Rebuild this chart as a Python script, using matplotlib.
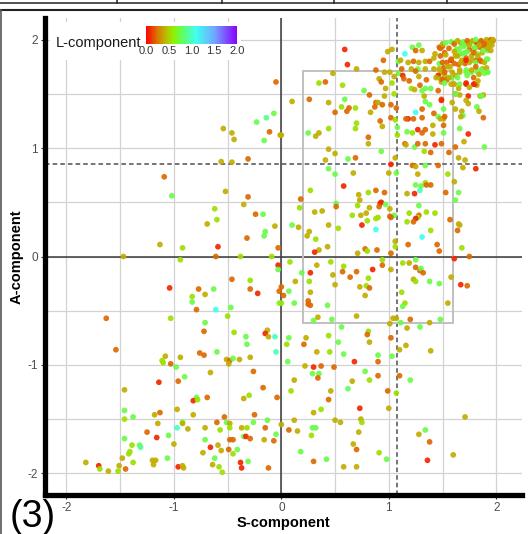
import numpy as np
import matplotlib
matplotlib.use("Agg")
import matplotlib.pyplot as plt
from matplotlib.colors import LinearSegmentedColormap, Normalize
from matplotlib.patches import Rectangle
from matplotlib.lines import Line2D

plt.rcParams['font.family'] = ['Liberation Sans', 'DejaVu Sans']
plt.rcParams['axes.unicode_minus'] = False

# (S, A, L), by region
pts_upper_left = [
    (-0.05, 1.61, 0.22), (-0.07, 1.32, 0.75), (-0.14, 1.28, 0.9), (-0.23, 1.24, 0.75),
    (-0.54, 1.18, 0.4), (-0.46, 1.14, 0.4), (-0.44, 1.08, 0.4), (-0.11, 1.15, 0.22),
    (-0.01, 1.12, 0.4), (-0.16, 1.07, 0.75), (-0.31, 0.90, 0.22), (-0.56, 0.875, 0.4),
    (-0.46, 0.87, 0.4), (-1.09, 0.735, 0.22),
]

pts_upper_right = [
    (0.59, 1.91, 0.08), (0.615, 1.77, 0.08), (0.70, 1.73, 0.4), (0.99, 1.89, 0.4),
    (1.03, 1.91, 0.4), (1.15, 1.87, 1.1), (1.09, 1.80, 0.75), (1.22, 1.93, 0.75),
    (1.28, 1.95, 0.75), (1.25, 1.90, 0.22), (1.31, 1.90, 0.4), (0.95, 1.81, 0.22),
    (0.88, 1.72, 0.22), (0.96, 1.70, 0.4), (1.01, 1.70, 0.4), (1.09, 1.69, 0.75),
    (1.13, 1.67, 0.08), (1.14, 1.64, 0.22), (1.11, 1.81, 0.4), (1.12, 1.73, 0.22),
    (1.18, 1.79, 0.4), (1.23, 1.80, 0.22), (1.28, 1.79, 0.4), (1.34, 1.80, 0.4),
    (1.38, 1.80, 0.22), (1.27, 1.73, 0.75), (1.34, 1.73, 0.4), (1.43, 1.87, 0.4),
    (1.50, 1.94, 0.22), (1.48, 1.92, 0.22), (1.42, 1.83, 0.4), (1.48, 1.85, 0.22),
    (1.52, 1.88, 0.22), (1.47, 1.78, 0.75), (1.51, 1.74, 0.22), (1.54, 1.79, 0.22),
    (1.58, 1.81, 0.08), (1.57, 1.75, 0.4), (1.42, 1.73, 0.4), (1.49, 1.70, 0.4),
    (1.46, 1.67, 0.08), (1.52, 1.67, 0.4), (1.58, 1.65, 0.75), (1.48, 1.64, 0.4),
    (1.54, 1.63, 0.22), (1.49, 1.61, 0.4), (1.58, 1.59, 0.4), (1.60, 1.97, 0.75),
    (1.63, 1.91, 0.75), (1.67, 1.97, 0.4), (1.70, 1.95, 0.75), (1.74, 1.97, 0.4),
    (1.77, 1.98, 0.75), (1.82, 1.97, 0.08), (1.86, 1.98, 0.4), (1.91, 1.98, 0.22),
    (1.95, 1.99, 0.4), (1.97, 1.99, 0.22), (1.62, 1.85, 0.4), (1.66, 1.87, 0.75),
    (1.71, 1.88, 0.75), (1.75, 1.91, 0.22), (1.80, 1.92, 0.4), (1.85, 1.93, 0.22),
    (1.89, 1.94, 0.22), (1.94, 1.95, 0.4), (1.68, 1.81, 0.4), (1.72, 1.83, 0.22),
    (1.77, 1.85, 0.4), (1.82, 1.87, 0.75), (1.87, 1.88, 0.4), (1.92, 1.90, 0.75),
    (1.65, 1.77, 0.22), (1.71, 1.78, 0.22), (1.75, 1.79, 0.4), (1.81, 1.81, 0.22),
    (1.86, 1.80, 0.22), (1.91, 1.82, 0.75), (1.72, 1.72, 0.75), (1.77, 1.70, 0.75),
    (1.82, 1.71, 0.75), (1.87, 1.73, 0.4), (1.92, 1.70, 0.75), (1.66, 1.70, 0.4),
    (1.62, 1.67, 0.4), (1.72, 1.59, 0.08), (1.79, 1.59, 0.08), (1.82, 1.58, 0.4),
    (1.66, 1.59, 0.75), (1.65, 1.55, 0.4), (1.60, 1.59, 0.4), (1.62, 1.50, 0.22),
    (1.66, 1.49, 0.4), (1.74, 1.48, 0.08), (1.85, 1.48, 0.4), (1.88, 1.49, 0.4),
    (1.74, 1.41, 0.4), (1.62, 1.36, 0.4), (1.68, 1.34, 0.4), (1.69, 1.30, 0.75),
    (1.67, 1.29, 0.4), (1.82, 1.38, 0.75), (1.84, 1.34, 0.4), (1.88, 1.28, 0.22),
    (1.66, 1.18, 0.75), (1.74, 1.13, 0.08), (1.70, 1.06, 0.4), (1.62, 1.01, 0.22),
    (1.89, 1.01, 0.75), (1.65, 0.91, 0.4), (1.71, 0.89, 0.4), (1.69, 0.82, 0.4),
    (1.81, 0.81, 0.08),
    (0.10, 1.43, 0.4), (0.26, 1.45, 0.22), (0.35, 1.60, 0.55), (0.41, 1.61, 0.22),
    (0.48, 1.69, 0.4), (0.57, 1.58, 0.55), (0.59, 1.45, 0.75), (0.56, 1.38, 0.55),
    (0.63, 1.37, 0.22), (0.61, 1.34, 0.22), (0.69, 1.37, 0.55), (0.50, 1.33, 0.22),
    (0.44, 1.42, 0.4), (0.77, 1.53, 0.75), (0.82, 1.49, 0.22), (0.91, 1.64, 0.4),
    (0.93, 1.61, 0.22), (0.97, 1.55, 0.4), (0.96, 1.48, 0.4), (0.88, 1.42, 0.22),
    (0.87, 1.38, 0.22), (0.90, 1.42, 0.4), (0.94, 1.40, 0.22), (1.02, 1.40, 0.22),
    (1.07, 1.37, 0.22), (1.05, 1.50, 0.55), (1.03, 1.60, 0.55), (1.05, 1.66, 0.4),
    (0.83, 1.33, 0.4), (0.92, 1.25, 0.22), (0.94, 1.20, 0.4), (1.02, 1.28, 0.22),
    (1.06, 1.26, 0.55), (1.08, 1.19, 0.75), (1.08, 1.12, 0.55), (0.81, 1.10, 0.22),
    (0.81, 1.04, 0.4), (0.70, 1.23, 0.55), (0.69, 1.18, 0.55), (0.44, 1.18, 0.55),
    (0.35, 1.14, 0.4), (0.32, 1.11, 0.4), (0.25, 1.14, 0.75), (0.44, 0.99, 0.4),
    (0.41, 0.89, 0.4), (0.50, 0.95, 0.4), (0.62, 0.90, 0.75), (0.69, 0.91, 0.22),
    (0.44, 0.81, 0.75), (0.50, 0.76, 0.75), (0.67, 0.77, 0.4), (0.93, 0.97, 0.75),
    (1.06, 0.91, 0.4), (1.02, 0.85, 0.08), (1.00, 0.77, 0.4), (1.07, 0.77, 0.75),
    (1.15, 1.04, 0.22), (1.18, 1.27, 0.08), (1.16, 1.27, 0.22), (1.23, 1.27, 0.22),
    (1.27, 1.17, 0.08), (1.17, 1.15, 0.75), (1.22, 1.14, 0.55), (1.31, 1.14, 0.22),
    (1.34, 1.17, 0.22), (1.41, 1.13, 0.4), (1.41, 1.21, 0.4), (1.42, 1.32, 0.22),
    (1.46, 1.29, 0.75), (1.48, 1.27, 0.4), (1.51, 1.27, 0.4), (1.52, 1.29, 0.22),
    (1.51, 1.21, 0.22), (1.51, 1.14, 0.75), (1.31, 1.28, 0.22), (1.31, 1.36, 0.22),
    (1.25, 1.33, 1.1), (1.38, 1.40, 0.75), (1.34, 1.43, 0.75), (1.33, 1.48, 0.4),
    (1.31, 1.53, 0.75), (1.39, 1.55, 0.75), (1.46, 1.53, 0.22), (1.49, 1.45, 0.22),
    (1.51, 1.36, 0.75), (1.19, 1.62, 0.22), (1.21, 1.55, 0.55), (1.24, 1.54, 0.4),
    (1.29, 1.58, 0.22), (1.34, 1.55, 0.75), (1.28, 1.66, 0.4), (1.35, 1.63, 0.22),
    (1.21, 1.73, 0.4), (1.25, 1.71, 0.22), (1.16, 1.03, 0.4), (1.24, 1.01, 0.75),
    (1.27, 1.04, 0.22), (1.34, 1.04, 0.22), (1.43, 1.03, 0.08), (1.49, 1.04, 0.22),
    (1.33, 0.97, 0.55), (1.39, 0.96, 0.22), (1.56, 0.96, 0.22), (1.22, 0.84, 0.22),
    (1.25, 0.83, 0.4), (1.27, 0.76, 0.4), (1.34, 0.84, 0.75), (1.46, 0.84, 0.22),
    (1.55, 0.76, 0.55), (0.0, 1.12, 0.4),
]

pts_corner = [
    (1.47, 1.93, 0.22), (1.50, 1.96, 0.4), (1.53, 1.97, 0.75), (1.58, 1.98, 0.75),
    (1.61, 1.96, 0.22), (1.64, 1.99, 0.4), (1.69, 1.98, 0.75), (1.73, 1.99, 0.22),
    (1.78, 1.99, 0.4), (1.81, 2.00, 0.75), (1.86, 1.99, 0.22), (1.91, 2.00, 0.4),
    (1.95, 2.00, 0.22), (1.97, 2.00, 0.4), (1.56, 1.92, 0.22), (1.61, 1.89, 0.4),
    (1.66, 1.92, 0.75), (1.70, 1.94, 0.75), (1.75, 1.95, 0.4), (1.80, 1.93, 0.75),
    (1.84, 1.95, 0.4), (1.89, 1.96, 0.22), (1.94, 1.97, 0.4), (1.96, 1.95, 0.4),
    (1.53, 1.86, 0.4), (1.58, 1.82, 0.22), (1.64, 1.85, 0.4), (1.69, 1.87, 0.75),
    (1.73, 1.89, 0.75), (1.79, 1.88, 0.22), (1.83, 1.85, 0.4), (1.88, 1.90, 0.75),
    (1.92, 1.92, 0.4), (1.95, 1.90, 0.4), (1.50, 1.79, 0.22), (1.55, 1.75, 0.4),
    (1.61, 1.78, 0.22), (1.67, 1.79, 0.4), (1.72, 1.81, 0.08), (1.77, 1.81, 0.4),
    (1.81, 1.79, 0.75), (1.85, 1.81, 0.22), (1.89, 1.79, 0.4), (1.92, 1.82, 0.75),
    (1.47, 1.73, 0.4), (1.52, 1.70, 0.22), (1.59, 1.70, 0.4), (1.66, 1.72, 0.4),
    (1.72, 1.70, 0.75), (1.77, 1.72, 0.4), (1.81, 1.75, 0.22), (1.86, 1.72, 0.75),
    (1.91, 1.74, 0.4), (1.92, 1.70, 0.75), (1.44, 1.65, 0.4), (1.50, 1.63, 0.22),
    (1.56, 1.65, 0.4), (1.64, 1.65, 0.75), (1.73, 1.67, 0.75), (1.79, 1.65, 0.22),
    (1.84, 1.68, 0.4), (1.89, 1.69, 0.75), (1.52, 1.60, 0.75), (1.61, 1.59, 0.4),
    (1.72, 1.60, 0.08), (1.80, 1.59, 0.08), (1.83, 1.62, 0.4), (1.75, 1.56, 0.4),
    (1.86, 1.48, 0.75), (1.72, 1.44, 0.4), (1.62, 1.50, 0.75), (1.49, 1.44, 0.08),
    (1.59, 1.42, 0.4),
]

pts_mid_left = [
    (-1.02, 0.56, 0.75), (-0.52, 0.60, 0.4), (-0.31, 0.55, 0.22), (-0.35, 0.48, 0.4),
    (-0.24, 0.39, 0.22), (-0.17, 0.39, 0.75), (-0.62, 0.44, 0.55), (-0.60, 0.34, 0.55),
    (-0.69, 0.30, 0.4), (-0.06, 0.28, 0.4), (-0.15, 0.23, 0.75), (-0.16, 0.19, 0.75),
    (-0.32, 0.17, 0.22), (-0.59, 0.09, 0.08), (-0.92, 0.08, 0.55), (-1.13, 0.11, 0.4),
    (-0.03, 0.08, 0.22), (-1.47, 0.0, 0.4), (-0.94, -0.03, 0.55), (-0.61, 0.0, 0.22),
    (-0.38, 0.0, 0.55), (-0.09, 0.0, 0.55), (-0.03, -0.08, 0.08), (-0.03, -0.12, 0.75),
    (-0.46, -0.21, 0.22), (-0.29, -0.22, 0.55), (-1.04, -0.29, 0.08), (-0.77, -0.30, 0.22),
    (-0.63, -0.30, 0.75), (-0.71, -0.35, 0.4), (-0.83, -0.37, 0.55), (-0.83, -0.42, 0.75),
    (-0.29, -0.30, 0.22), (-0.22, -0.34, 0.08), (-0.02, -0.32, 0.22), (-0.02, -0.43, 0.75),
    (-0.79, -0.49, 0.22), (-0.61, -0.49, 1.1), (-0.47, -0.47, 0.75), (-1.63, -0.57, 0.22),
    (-1.03, -0.57, 0.55), (-0.50, -0.55, 0.55), (-0.71, -0.61, 0.75), (-0.72, -0.69, 0.22),
    (-0.44, -0.70, 0.55), (-0.33, -0.74, 0.75), (-0.13, -0.68, 0.4), (-0.15, -0.71, 0.08),
    (-0.12, -0.74, 0.4), (-0.06, -0.74, 1.0),
]

pts_mid_right = [
    (0.27, 0.61, 0.55), (0.58, 0.65, 0.08), (0.18, 0.53, 0.22), (0.17, 0.45, 0.55),
    (0.31, 0.41, 0.4), (0.38, 0.42, 0.4), (0.51, 0.49, 0.75), (0.51, 0.46, 0.22),
    (0.72, 0.57, 0.4), (0.73, 0.52, 0.4), (0.81, 0.59, 0.55), (0.88, 0.61, 0.22),
    (0.96, 0.59, 0.22), (0.71, 0.47, 0.55), (0.82, 0.45, 0.4), (0.92, 0.49, 0.08),
    (0.93, 0.50, 0.08), (0.91, 0.46, 0.22), (0.97, 0.48, 0.75), (1.01, 0.44, 0.4),
    (1.05, 0.38, 0.75), (1.01, 0.37, 0.22), (1.02, 0.36, 0.22), (0.66, 0.38, 0.55),
    (0.74, 0.38, 0.4), (0.79, 0.40, 0.4), (0.80, 0.33, 0.55), (0.88, 0.35, 0.55),
    (0.90, 0.36, 0.55), (0.75, 0.29, 0.08), (0.88, 0.25, 1.1), (0.44, 0.29, 0.4),
    (0.53, 0.26, 0.55), (0.10, 0.29, 0.75), (0.16, 0.27, 0.4), (0.26, 0.23, 0.4),
    (0.24, 0.19, 0.4), (0.32, 0.16, 0.55), (0.43, 0.09, 0.4), (0.35, 0.06, 0.4),
    (0.31, 0.04, 0.08), (0.71, 0.03, 0.4), (0.78, 0.07, 0.22), (0.80, 0.05, 0.55),
    (0.89, 0.06, 0.22), (1.02, 0.03, 0.22), (1.06, 0.14, 0.4), (1.06, 0.09, 0.55),
    (1.18, 0.11, 0.22), (1.17, 0.58, 0.4), (1.24, 0.58, 0.08), (1.25, 0.66, 0.75),
    (1.29, 0.61, 1.0), (1.30, 0.65, 0.75), (1.34, 0.68, 0.55), (1.35, 0.66, 0.22),
    (1.39, 0.66, 0.22), (1.53, 0.59, 0.22), (1.61, 0.69, 0.4), (1.65, 0.59, 0.75),
    (1.62, 0.52, 0.75), (1.28, 0.47, 0.75), (1.19, 0.40, 0.55), (1.28, 0.38, 0.22),
    (1.27, 0.36, 0.55), (1.25, 0.35, 0.08), (1.23, 0.32, 0.22), (1.17, 0.32, 0.55),
    (1.35, 0.41, 0.55), (1.43, 0.40, 0.55), (1.39, 0.24, 0.55), (1.31, 0.18, 1.1),
    (1.45, 0.11, 0.22), (1.47, 0.05, 0.22), (1.57, 0.34, 0.22), (1.65, 0.30, 0.4),
    (1.66, 0.29, 0.4), (1.64, 0.24, 0.22), (1.68, 0.08, 0.55), (1.61, -0.02, 0.08),
    (1.75, 0.00, 0.22), (1.58, -0.19, 0.4), (1.67, -0.26, 0.08), (1.73, -0.27, 0.22),
    (1.55, -0.43, 0.4), (1.47, -0.25, 0.75), (1.38, -0.23, 0.75), (1.25, -0.03, 0.75),
    (1.25, -0.10, 0.22), (1.29, -0.13, 0.22), (1.30, -0.11, 0.75), (1.32, -0.15, 0.22),
    (1.23, -0.21, 0.4), (1.25, -0.23, 0.55), (1.13, -0.06, 0.55), (1.19, -0.06, 0.4),
    (1.02, -0.12, 0.4), (0.94, -0.03, 0.55), (0.94, -0.08, 0.22), (1.12, -0.33, 0.55),
    (1.15, -0.43, 0.55), (1.13, -0.46, 0.75), (0.08, -0.05, 0.55), (0.19, -0.15, 0.75),
    (0.27, -0.15, 0.08), (0.33, -0.08, 0.4), (0.46, -0.05, 0.55), (0.58, -0.09, 0.55),
    (0.57, -0.14, 0.22), (0.48, -0.17, 0.4), (0.64, -0.19, 0.22), (0.70, -0.14, 0.22),
    (0.85, -0.12, 0.08), (0.13, -0.23, 0.4), (0.26, -0.23, 0.55), (0.50, -0.26, 0.4),
    (0.73, -0.28, 0.4), (0.81, -0.20, 0.55), (0.79, -0.27, 0.55), (0.82, -0.29, 0.22),
    (0.78, -0.36, 0.4), (0.07, -0.32, 0.75), (0.27, -0.33, 0.4), (0.12, -0.43, 0.75),
    (0.25, -0.41, 0.22), (0.25, -0.44, 0.22), (0.27, -0.45, 0.22), (0.43, -0.45, 0.75),
    (0.30, -0.59, 0.75), (0.34, -0.56, 0.4), (0.47, -0.58, 0.75), (0.56, -0.65, 0.75),
    (0.70, -0.55, 0.4), (1.01, -0.62, 0.4), (1.04, -0.57, 0.4), (1.07, -0.57, 0.4),
    (1.11, -0.61, 0.75), (1.20, -0.58, 0.22), (1.17, -0.66, 0.4), (1.29, -0.65, 0.75),
    (1.38, -0.61, 0.4), (1.48, -0.58, 0.75), (0.81, -0.69, 0.55), (0.80, -0.72, 0.22),
    (0.44, -0.73, 0.55), (0.23, -0.75, 0.4), (0.07, -0.75, 0.75), (0.0, -0.28, 0.22),
    (0.02, -0.36, 0.22), (0.0, -0.43, 0.55),
]

pts_low_left = [
    (-1.54, -0.86, 0.22), (-1.08, -0.92, 0.4), (-1.11, -0.96, 0.55), (-1.10, -0.98, 0.55),
    (-0.94, -0.93, 0.4), (-1.03, -0.99, 0.22), (-0.98, -1.02, 0.75), (-0.76, -0.89, 0.22),
    (-0.72, -0.91, 0.22), (-0.60, -0.88, 0.75), (-0.51, -0.95, 0.4), (-0.48, -0.96, 0.22),
    (-0.45, -0.94, 0.75), (-0.49, -0.99, 0.4), (-0.39, -0.95, 0.4), (-0.29, -0.93, 0.4),
    (-0.32, -0.81, 0.75), (-0.05, -0.88, 1.0), (-0.26, -1.06, 0.22), (-0.66, -1.07, 0.4),
    (-0.90, -1.11, 0.75), (-1.14, -1.16, 0.08), (-0.96, -1.15, 0.22), (-1.46, -1.23, 0.4),
    (-0.17, -1.21, 0.22), (-0.04, -1.30, 0.22), (-0.35, -1.31, 0.4), (-0.30, -1.28, 0.55),
    (-0.79, -1.30, 0.75), (-0.82, -1.33, 0.08), (-0.78, -1.32, 0.55), (-0.69, -1.30, 0.22),
    (-0.97, -1.41, 0.4), (-1.13, -1.44, 0.22), (-1.18, -1.46, 0.4), (-0.82, -1.46, 0.4),
    (-1.46, -1.42, 0.75), (-1.46, -1.50, 0.55), (-1.38, -1.48, 0.75), (-1.15, -1.54, 0.4),
    (-1.25, -1.62, 0.22), (-1.16, -1.67, 0.08), (-1.05, -1.65, 0.75), (-1.46, -1.68, 0.75),
    (-1.32, -1.74, 0.75), (-1.31, -1.76, 0.9), (-1.39, -1.74, 0.55), (-1.41, -1.80, 0.55),
    (-1.42, -1.82, 0.55), (-1.48, -1.86, 0.4), (-1.38, -1.90, 0.55), (-1.51, -1.93, 0.4),
    (-1.45, -1.96, 0.22), (-1.82, -1.90, 0.4), (-1.70, -1.93, 0.08), (-1.69, -1.96, 0.55),
    (-1.61, -1.98, 0.4), (-1.52, -1.98, 0.55), (-1.00, -1.73, 0.4), (-0.92, -1.53, 0.75),
    (-0.97, -1.58, 1.0), (-0.87, -1.59, 0.4), (-0.92, -1.54, 0.4), (-0.71, -1.58, 0.4),
    (-0.60, -1.53, 0.22), (-0.53, -1.48, 0.22), (-0.51, -1.53, 0.75), (-0.48, -1.54, 0.4),
    (-0.48, -1.58, 0.55), (-0.57, -1.60, 0.55), (-0.71, -1.69, 0.75), (-0.66, -1.76, 0.08),
    (-0.59, -1.74, 0.4), (-0.73, -1.81, 0.4), (-0.56, -1.79, 0.4), (-0.49, -1.78, 0.22),
    (-0.48, -1.69, 0.22), (-0.45, -1.69, 0.22), (-0.45, -1.82, 0.55), (-0.41, -1.78, 0.75),
    (-0.62, -1.86, 0.75), (-0.64, -1.92, 0.4), (-0.58, -1.94, 0.55), (-0.55, -1.99, 0.55),
    (-1.06, -1.86, 0.75), (-1.20, -1.88, 0.4), (-1.17, -1.88, 0.4), (-1.19, -1.92, 0.4),
    (-0.96, -1.94, 0.08), (-0.92, -1.93, 0.4), (-0.91, -1.95, 0.4), (-0.37, -1.58, 0.4),
    (-0.32, -1.58, 0.55), (-0.35, -1.66, 0.75), (-0.33, -1.66, 0.08), (-0.29, -1.68, 0.22),
    (-0.26, -1.53, 0.75), (-0.25, -1.46, 0.22), (-0.13, -1.51, 0.75), (-0.15, -1.58, 0.22),
    (-0.16, -1.69, 0.4), (-0.07, -1.70, 0.22), (-0.05, -1.64, 0.75), (0.0, -1.55, 0.4),
    (-0.38, -1.90, 0.08), (-0.37, -1.95, 0.08), (-0.31, -1.89, 0.75), (-0.12, -1.95, 0.22),
]

pts_low_right = [
    (0.05, -0.81, 0.55), (0.21, -0.81, 0.22), (0.33, -0.88, 0.4), (0.45, -0.88, 0.55),
    (0.53, -0.79, 0.75), (0.58, -0.90, 0.75), (0.82, -0.79, 0.4), (1.02, -0.75, 0.22),
    (0.90, -0.91, 0.75), (0.90, -0.97, 0.22), (1.03, -0.92, 0.75), (1.10, -0.86, 0.4),
    (1.16, -0.82, 0.4), (1.39, -0.87, 0.4), (0.68, -0.97, 0.08), (0.06, -0.97, 0.75),
    (0.22, -1.01, 0.4), (0.30, -1.02, 0.08), (0.37, -1.01, 0.22), (0.49, -1.02, 0.22),
    (0.29, -1.08, 0.75), (0.35, -1.08, 0.75), (0.34, -1.12, 0.22), (0.12, -1.14, 0.4),
    (0.66, -1.15, 0.4), (0.82, -1.14, 0.55), (0.78, -1.06, 0.75), (0.90, -1.10, 0.22),
    (1.10, -1.10, 0.22), (1.20, -1.14, 0.75), (0.09, -1.24, 0.55), (0.46, -1.24, 0.4),
    (0.62, -1.22, 0.8), (0.99, -1.24, 0.22), (1.07, -1.26, 0.55), (0.44, -1.32, 0.22),
    (0.37, -1.41, 0.55), (0.30, -1.44, 0.4), (0.73, -1.40, 0.08), (1.00, -1.40, 0.4),
    (0.12, -1.51, 0.4), (0.07, -1.60, 0.22), (0.15, -1.61, 0.4), (0.29, -1.58, 0.75),
    (0.32, -1.58, 0.75), (0.28, -1.65, 0.55), (0.50, -1.51, 0.4), (0.55, -1.53, 0.4),
    (0.74, -1.50, 0.4), (0.75, -1.53, 0.55), (0.72, -1.62, 0.4), (0.67, -1.73, 0.4),
    (0.70, -1.78, 0.22), (0.18, -1.80, 0.75), (0.30, -1.89, 0.22), (0.42, -1.87, 0.75),
    (0.58, -1.94, 0.4), (0.70, -1.94, 0.4), (0.91, -1.81, 0.55), (0.98, -1.87, 0.75),
    (1.28, -1.64, 0.4), (1.34, -1.60, 0.75), (1.38, -1.71, 0.22), (1.36, -1.88, 0.08),
    (1.60, -1.83, 0.4), (1.71, -1.48, 0.4),
]

groups = [pts_upper_left, pts_upper_right, pts_corner, pts_mid_left,
          pts_mid_right, pts_low_left, pts_low_right]
s_comp = np.array([p[0] for g in groups for p in g])
a_comp = np.array([p[1] for g in groups for p in g])
l_comp = np.array([p[2] for g in groups for p in g])

box_s = (0.2, 1.6)
box_a = (-0.61, 1.71)
cut_s = 1.075
cut_a = 0.85

cmap = LinearSegmentedColormap.from_list('lcomp', [
    (0.0, '#FF0000'), (0.125, '#D87800'), (0.225, '#B8C000'), (0.3, '#90F000'),
    (0.4, '#60FF60'), (0.55, '#40FFF0'), (0.75, '#70A8FF'), (1.0, '#8800FF')])
norm = Normalize(0, 2)

fig = plt.figure(figsize=(5.28, 5.34), dpi=100)
ax = fig.add_axes([45 / 528, 39 / 534, 477 / 528, 477 / 534])

ax.set_xlim(-2.2, 2.24)
ax.set_ylim(-2.2, 2.2)
ax.set_xticks([-2, -1, 0, 1, 2])
ax.set_yticks([-2, -1, 0, 1, 2])
ax.set_xticks(np.arange(-2, 2.01, 0.5), minor=True)
ax.set_yticks(np.arange(-2, 2.01, 0.5), minor=True)
ax.tick_params(which='minor', length=0)
ax.tick_params(which='major', length=3, width=0.8, color='#333333',
               labelsize=8.5, labelcolor='#4d4d4d', pad=2)
ax.grid(True, which='both', color='#d2d2d2', lw=0.9, zorder=0)
ax.set_axisbelow(True)

for side in ['top', 'right']:
    ax.spines[side].set_visible(False)
for side in ['left', 'bottom']:
    ax.spines[side].set_linewidth(3.8)
    ax.spines[side].set_color('black')

ax.axhline(0, color='#3a3a3a', lw=1.1, zorder=1)
ax.axvline(0, color='#3a3a3a', lw=1.1, zorder=1)
ax.axhline(cut_a, color='#505050', lw=1.1, ls=(0, (3, 2)), zorder=1)
ax.axvline(cut_s, color='#505050', lw=1.1, ls=(0, (3, 2)), zorder=1)
ax.add_patch(Rectangle((box_s[0], box_a[0]), box_s[1] - box_s[0], box_a[1] - box_a[0],
                       fill=False, ec='#c0c0c0', lw=1.4, zorder=1))

sc = ax.scatter(s_comp, a_comp, c=l_comp, cmap=cmap, norm=norm, s=17,
                alpha=0.92, linewidths=0, zorder=3)

ax.set_xlabel('S-component', fontsize=10.5, fontweight='bold')
ax.set_ylabel('A-component', fontsize=10.5, fontweight='bold')
ax.xaxis.set_label_coords(0.5, -0.043)
ax.yaxis.set_label_coords(-0.045, 0.5)

# legend box with colour bar
ax.add_patch(Rectangle((0.01, 0.912), 0.4, 0.08, transform=ax.transAxes,
                       fc='white', ec='none', zorder=4))
fig.text(141 / 528, 1 - 46.5 / 534, 'L-component', fontsize=10.5, ha='right',
         va='baseline', color='#1a1a1a')
cax = fig.add_axes([146 / 528, 1 - 43.5 / 534, 91 / 528, 18 / 534])
cb = fig.colorbar(sc, cax=cax, orientation='horizontal')
cb.solids.set_alpha(1)
cb.outline.set_visible(False)
cb.set_ticks([0, 0.5, 1.0, 1.5, 2.0])
cb.ax.tick_params(length=0, labelsize=8, labelcolor='#333333', pad=1.5)
cb.ax.set_xticklabels(['0.0', '0.5', '1.0', '1.5', '2.0'])

# outer frame and panel label
fig.add_artist(Line2D([0, 1], [1 - 10 / 534] * 2, color='#222222', lw=1.5))
fig.add_artist(Line2D([1 / 528] * 2, [0, 1 - 10 / 534], color='#555555', lw=1.2))
fig.add_artist(Line2D([0, 1], [1 - 3 / 534] * 2, color='#222222', lw=1.1))
for xs in [117, 222, 334, 447]:
    fig.add_artist(Line2D([xs / 528] * 2, [1 - 3 / 534, 1], color='#222222', lw=1.1))
fig.text(10 / 528, 7 / 534, '(3)', fontsize=27, ha='left', va='baseline',
         family=['Liberation Sans Narrow', 'Liberation Sans'])

fig.savefig('out.png', dpi=100)
